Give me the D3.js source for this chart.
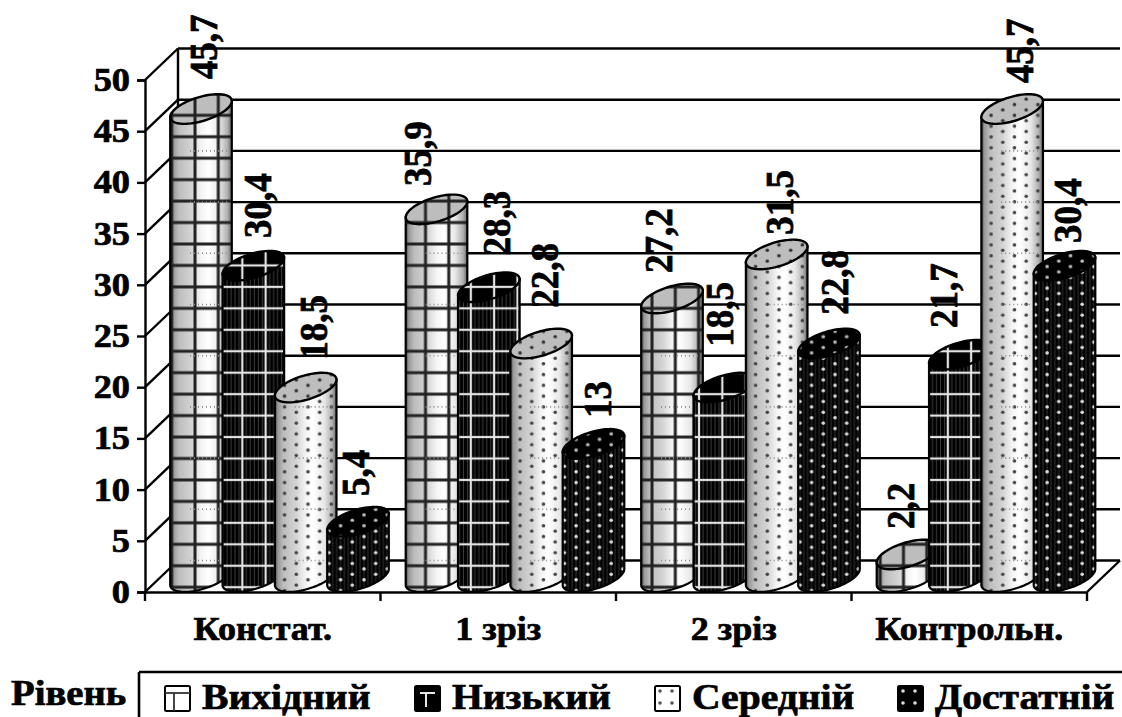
<!DOCTYPE html>
<html>
<head>
<meta charset="utf-8">
<script src="https://cdn.jsdelivr.net/npm/d3@7/dist/d3.min.js"></script>
<style>
html,body{margin:0;padding:0;background:#fff;overflow:hidden}
text{font-family:"Liberation Serif",serif;font-weight:bold;fill:#000;stroke:#000;stroke-width:0.7px}
</style>
</head>
<body>
<svg id="chart" width="1122" height="717"></svg>
<script>
// Data
const categories = ["Констат.", "1 зріз", "2 зріз", "Контрольн."];
const series = ["Вихідний", "Низький", "Середній", "Достатній"];
const vykhidnyi = [45.7, 35.9, 27.2, 2.2];
const nyzkyi = [30.4, 28.3, 18.5, 21.7];
const serednii = [18.5, 22.8, 31.5, 45.7];
const dostatnii = [5.4, 13, 22.8, 30.4];
const yTicks = [0, 5, 10, 15, 20, 25, 30, 35, 40, 45, 50];
const legendTitle = "Рівень";
const seriesValues = [vykhidnyi, nyzkyi, serednii, dostatnii];

// Hand placement of the value labels around their cylinders (series x category)
const labelShift = [[2, -19, -14, -7.5], [4, 7, -5, -17], [7, 3, 2, 7], [-3, 4, 5, 2.5]];
const labelGap = [[15, 8.6, 10.7, 10.7], [13, 17, 26, 12], [13, 21, 5, 11], [11, 11, 14, 8]];
// Horizontal phase of the grid texture on each cylinder of the first two series
const gridPhase = [[-6, -11, -20, -4], [-11, -18, -2, -12]];

const svg = d3.select("#chart");
const defs = svg.append("defs");

// Oblique box: front plane plus a constant depth shift for the back wall
const depth = {dx: 33, dy: -31.5};
const x0 = d3.scaleBand().domain(categories).range([145, 1087]);
const x1 = d3.scalePoint().domain(series).range([0, 157]);
const y = d3.scaleLinear().domain([0, 50]).range([592, 80]);

// Cylinder cross-section: a tilted ellipse
const rx = 32, ry = 12, tilt = -17 * Math.PI / 180, baseLift = 15, barInset = 56;
const ex = t => rx * Math.cos(t) * Math.cos(tilt) - ry * Math.sin(t) * Math.sin(tilt);
const ey = t => rx * Math.cos(t) * Math.sin(tilt) + ry * Math.sin(t) * Math.cos(tilt);
const tRight = Math.atan(-(ry / rx) * Math.tan(tilt));
const tLeft = tRight + Math.PI;
const ellipseHalf = Math.sqrt(Math.pow(rx * Math.sin(tilt), 2) + Math.pow(ry * Math.cos(tilt), 2));
const curve = d3.line().x(d => d[0]).y(d => d[1]);

// Shaded cylinder bodies
function addGradient(id, stops) {
  const g = defs.append("linearGradient").attr("id", id).attr("x1", 0).attr("x2", 1).attr("y1", 0).attr("y2", 0);
  stops.forEach(s => g.append("stop").attr("offset", s[0]).attr("stop-color", s[1]));
}
addGradient("shadeLight", [[0, "#444"], [0.05, "#999"], [0.14, "#bdbdbd"], [0.35, "#d4d4d4"], [0.5, "#f4f4f4"], [0.62, "#fff"], [0.8, "#e8e8e8"], [0.93, "#b0b0b0"], [1, "#666"]]);
addGradient("shadeDark", [[0, "#000"], [1, "#000"]]);

// Fill textures: grid for the first two series, dots for the others
const cellW = 23.3, cellH = 21.45, gridY = 10.2;
function gridPattern(id, colour, bg, thin, weight) {
  const p = defs.append("pattern").attr("id", id).attr("patternUnits", "userSpaceOnUse")
    .attr("width", cellW).attr("height", cellH).attr("x", 0).attr("y", gridY);
  if (bg) p.append("rect").attr("width", cellW).attr("height", cellH).attr("fill", bg);
  if (thin) d3.range(4, cellW - 1, 4).forEach(v => p.append("line").attr("x1", v).attr("x2", v).attr("y1", 0).attr("y2", cellH)
    .attr("stroke", "#555").attr("stroke-width", 0.7));
  p.append("line").attr("x1", 0).attr("x2", cellW).attr("y1", 0).attr("y2", 0).attr("stroke", colour).attr("stroke-width", weight);
  [0, cellW].forEach(v => p.append("line").attr("x1", v).attr("x2", v).attr("y1", 0).attr("y2", cellH)
    .attr("stroke", colour).attr("stroke-width", weight));
  p.append("line").attr("x1", 0).attr("x2", cellW).attr("y1", cellH).attr("y2", cellH).attr("stroke", colour).attr("stroke-width", weight);
}
function dotPattern(id, colour, bg, thin, firstX) {
  const p = defs.append("pattern").attr("id", id).attr("patternUnits", "userSpaceOnUse")
    .attr("width", 23.4).attr("height", 10.8).attr("x", 0).attr("y", 0);
  if (bg) p.append("rect").attr("width", 23.4).attr("height", 10.8).attr("fill", bg);
  if (thin) d3.range(2, 23, 3.9).forEach(v => p.append("line").attr("x1", v).attr("x2", v).attr("y1", 0).attr("y2", 10.8)
    .attr("stroke", "#4a4a4a").attr("stroke-width", 0.7));
  [[firstX, 2.7], [firstX + 11.7, 8.1]].forEach(d => p.append("circle").attr("cx", d[0]).attr("cy", d[1]).attr("r", 1.8).attr("fill", colour));
}
gridPattern("gridOnLight", "#222", null, false, 3);
gridPattern("gridOnDark", "#e4e4e4", null, true, 2.2);
gridPattern("gridTopLight", "#222", "#bdbdbd", false, 3);
gridPattern("gridTopDark", "#e4e4e4", "#000", false, 2.2);
dotPattern("dotOnLight", "#444", null, false, 2.3);
dotPattern("dotOnDark", "#ddd", null, true, 6);
dotPattern("dotTopLight", "#333", "#bdbdbd", false, 2.3);
dotPattern("dotTopDark", "#bbb", "#000", false, 6);

const styleBySeries = [
  {shade: "shadeLight", tex: "gridOnLight", top: "gridTopLight"},
  {shade: "shadeDark", tex: "gridOnDark", top: "gridTopDark"},
  {shade: "shadeLight", tex: "dotOnLight", top: "dotTopLight"},
  {shade: "shadeDark", tex: "dotOnDark", top: "dotTopDark"}
];

// Walls and floor of the box
const frame = svg.append("g").attr("fill", "none").attr("stroke", "#000").attr("stroke-width", 2.4);
const backLeft = x0.range()[0] + depth.dx, backRight = x0.range()[1] + depth.dx;
yTicks.forEach(t => {
  const yb = y(t) + depth.dy;
  frame.append("line").attr("x1", backLeft).attr("x2", backRight).attr("y1", yb).attr("y2", yb);
  frame.append("line").attr("x1", x0.range()[0]).attr("x2", backLeft).attr("y1", y(t)).attr("y2", yb);
});
frame.append("line").attr("x1", backLeft).attr("x2", backLeft).attr("y1", y(0) + depth.dy).attr("y2", y(50) + depth.dy);
frame.append("line").attr("x1", x0.range()[1]).attr("x2", backRight).attr("y1", y(0)).attr("y2", y(0) + depth.dy);

// Value axis and category axis on the front plane
const wide = 1.1;
const yAxis = svg.append("g").attr("transform", `translate(${x0.range()[0]},0)`)
  .call(d3.axisLeft(y).tickValues(yTicks).tickSize(8));
const xAxis = svg.append("g").attr("transform", `translate(0,${y(0)})`)
  .call(d3.axisBottom(x0).tickSize(0).tickFormat(""));
[yAxis, xAxis].forEach(a => {
  a.selectAll("path").attr("stroke", "#000").attr("stroke-width", 2.4);
  a.selectAll("line").attr("stroke", "#000").attr("stroke-width", 2.4);
});
yAxis.selectAll("text")
  .style("font-family", '"Liberation Serif",serif').style("font-size", "33px").style("font-weight", "bold")
  .attr("fill", "#000").attr("x", -15 / wide).attr("transform", `scale(${wide},1)`);
const bounds = categories.map(c => x0(c)).concat(x0.range()[1]);
svg.append("g").selectAll("line").data(bounds).join("line")
  .attr("x1", d => d).attr("x2", d => d).attr("y1", y(0)).attr("y2", y(0) + 9)
  .attr("stroke", "#000").attr("stroke-width", 2.4);

// Cylinders, left to right so that each overlaps the previous one
const bars = svg.append("g");
categories.forEach((cat, ci) => {
  series.forEach((name, si) => {
    const v = seriesValues[si][ci];
    const cx = x0(cat) + barInset + x1(name);
    const baseY = y(0) - baseLift;
    const h = y(0) - y(v);
    const st = styleBySeries[si];
    const g = bars.append("g").attr("transform", `translate(${cx},${baseY})`);
    const lower = d3.range(0, 41).map(i => {
      const t = tLeft + (tRight - tLeft) * i / 40;
      return [ex(t), ey(t)];
    });
    const outline = [[ex(tLeft), ey(tLeft) - h]].concat(lower, [[ex(tRight), ey(tRight) - h]]);
    const body = curve(outline) + "Z";
    const ring = d3.range(0, 73).map(i => {
      const t = i / 72 * 2 * Math.PI;
      return [ex(t), ey(t) - h];
    });
    // Grid textures are slid sideways per cylinder; the path is moved back by the same amount
    const phase = si < 2 ? gridPhase[si][ci] : 0;
    const shifted = pts => curve(pts.map(p => [p[0] - phase, p[1]])) + "Z";
    g.append("path").attr("d", body).attr("fill", `url(#${st.shade})`);
    g.append("path").attr("d", shifted(outline)).attr("transform", `translate(${phase},0)`).attr("fill", `url(#${st.tex})`);
    // Wall lines faintly showing through the lighter cylinders
    if (si % 2 === 0) {
      yTicks.filter(t => t < v - 3).forEach(t => {
        const yl = y(t) + depth.dy - baseY;
        g.append("line").attr("x1", -11).attr("x2", 29).attr("y1", yl).attr("y2", yl)
          .attr("stroke", "#8a8a8a").attr("stroke-width", 1.6).attr("stroke-dasharray", "1 3");
      });
    }
    g.append("path").attr("d", body).attr("fill", "none").attr("stroke", "#000").attr("stroke-width", 2.2);
    g.append("path").attr("d", shifted(ring)).attr("transform", `translate(${phase},0)`)
      .attr("fill", `url(#${st.top})`).attr("stroke", "#000").attr("stroke-width", 2.4);
  });
});

// Rotated value labels
const labels = svg.append("g");
categories.forEach((cat, ci) => {
  series.forEach((name, si) => {
    const v = seriesValues[si][ci];
    const cx = x0(cat) + barInset + x1(name);
    const top = y(v) - baseLift - ellipseHalf;
    labels.append("text")
      .attr("transform", `translate(${cx + labelShift[si][ci]},${top - labelGap[si][ci]}) rotate(-90) scale(1,${wide})`)
      .attr("dy", "0.34em")
      .attr("font-size", 37)
      .text(String(v).replace(".", ","));
  });
});

// Category captions
const caption = svg.append("g").attr("font-size", 34).attr("text-anchor", "middle");
categories.forEach(c => {
  caption.append("text")
    .attr("transform", `translate(${x0(c) + x0.bandwidth() / 2},640) scale(1.06,1)`)
    .text(c);
});

// Legend strip along the bottom edge
const legendLeft = 139, legendTop = 672;
svg.append("line").attr("x1", legendLeft).attr("x2", 1122).attr("y1", legendTop).attr("y2", legendTop).attr("stroke", "#000").attr("stroke-width", 2.6);
svg.append("line").attr("x1", legendLeft).attr("x2", legendLeft).attr("y1", legendTop).attr("y2", 717).attr("stroke", "#000").attr("stroke-width", 2.6);
svg.append("text").attr("transform", "translate(11,705) scale(1.075,1)").attr("font-size", 36).text(legendTitle);
const legendX = d3.scaleOrdinal().domain(series).range([164, 414, 654, 897]);
series.forEach((name, si) => {
  const kx = legendX(name), dark = si % 2 === 1, g = svg.append("g").attr("transform", `translate(${kx},685)`);
  const mark = dark ? "#fff" : "#333";
  g.append("rect").attr("x", 1).attr("y", 1).attr("width", 25).attr("height", 25).attr("rx", 1.5)
    .attr("fill", dark ? "#000" : "#fff").attr("stroke", "#000").attr("stroke-width", 2);
  if (si === 0) {
    g.append("line").attr("x1", 1).attr("x2", 26).attr("y1", 8).attr("y2", 8).attr("stroke", mark).attr("stroke-width", 1.8);
    g.append("line").attr("x1", 10).attr("x2", 10).attr("y1", 8).attr("y2", 26).attr("stroke", mark).attr("stroke-width", 1.8);
  } else if (si === 1) {
    g.append("line").attr("x1", 6).attr("x2", 21).attr("y1", 8).attr("y2", 8).attr("stroke", mark).attr("stroke-width", 1.8);
    g.append("line").attr("x1", 12).attr("x2", 12).attr("y1", 8).attr("y2", 22).attr("stroke", mark).attr("stroke-width", 1.8);
  } else {
    [[6, 6], [18, 6], [6, 18], [18, 18]].forEach(d =>
      g.append("circle").attr("cx", d[0]).attr("cy", d[1]).attr("r", 1.8).attr("fill", dark ? "#ddd" : "#555"));
  }
  g.append("text").attr("transform", "translate(38,24) scale(1.1,1)").attr("font-size", 36).text(name);
});
</script>
</body>
</html>
